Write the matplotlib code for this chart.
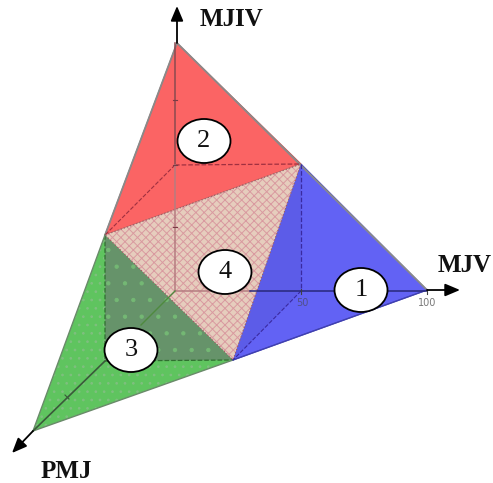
import matplotlib
matplotlib.use('Agg')
import matplotlib.pyplot as plt
from matplotlib.patches import Polygon, Ellipse

plt.rcParams['hatch.linewidth'] = 0.7

# corner points of the big triangle, read in picture pixels
top = (177, 43)
right = (427, 290)
left = (33, 431)
mid_rt = (301, 164)
mid_tl = (105, 235)
mid_lr = (233, 360)
origin = (175, 291)
top_back = (175, 165)
right_back = (301, 291)
left_back = (105, 361)

region_names = ['1', '2', '3', '4']
region_centers = [(361, 290), (204, 141), (131, 350), (225, 272)]
axis_names = ['MJIV', 'MJV', 'PMJ']
axis_label_pos = [(232, 19), (465, 266), (66, 472)]
tick_labels = ['50', '100']
tick_label_pos = [(302, 303), (427, 303)]

fig = plt.figure(figsize=(4.93, 4.83), dpi=100)
ax = fig.add_axes([0, 0, 1, 1])
ax.set_xlim(0, 493)
ax.set_ylim(483, 0)
ax.axis('off')

# coloured faces
ax.add_patch(Polygon([mid_rt, right, mid_lr], fc='#6262f4', ec='#4a4ac0', lw=0.8))
ax.add_patch(Polygon([top, mid_rt, mid_tl], fc='#fb6464', ec='#c05a5a', lw=0.8))
ax.add_patch(Polygon([mid_tl, mid_lr, left], fc='#5fc45f', ec='#7fbf7f', lw=0, hatch='..'))
ax.add_patch(Polygon([mid_tl, mid_rt, mid_lr], fc='#e6cdbd', ec='#d99aa0', lw=0, hatch='xxxx'))
ax.add_patch(Polygon([mid_tl, mid_lr, left_back], fc='#66936a', ec='#74b874', lw=0, hatch='.'))
ax.add_patch(Polygon([mid_rt, right_back, mid_lr], fc='#5c5ce8', ec='none'))

# dashed borders of the middle triangle and the dark green part
ax.plot([mid_tl[0], mid_rt[0], mid_lr[0], mid_tl[0]], [mid_tl[1], mid_rt[1], mid_lr[1], mid_tl[1]],
        color='#a06068', lw=0.9, ls=':')
ax.plot([mid_tl[0], left_back[0], mid_lr[0]], [mid_tl[1], left_back[1], mid_lr[1]],
        color='#2f6f2f', lw=0.9, ls='--')

# grey edge along the outside
ax.plot([mid_tl[0], top[0], right[0]], [mid_tl[1], top[1], right[1]], color='#8a8a8a', lw=1.3)
ax.plot([mid_tl[0], left[0], mid_lr[0]], [mid_tl[1], left[1], mid_lr[1]], color='#6a8a6a', lw=1.0)
ax.plot([mid_lr[0], right[0]], [mid_lr[1], right[1]], color='#4040b0', lw=1.0)

# dashed back lines
ax.plot([top_back[0], mid_rt[0]], [top_back[1], mid_rt[1]], color='#a03040', lw=0.9, ls='--')
ax.plot([top_back[0], mid_tl[0]], [top_back[1], mid_tl[1]], color='#a03040', lw=0.8, ls='--')
ax.plot([mid_rt[0], right_back[0]], [mid_rt[1], right_back[1]], color='#3a2aa0', lw=0.9, ls='--')
ax.plot([right_back[0], mid_lr[0]], [right_back[1], mid_lr[1]], color='#3a2aa0', lw=0.8, ls='--')

# axes inside the faces
ax.plot([top[0] - 2, origin[0]], [top[1], top_back[1]], color='#8a4a50', lw=1.1)
ax.plot([origin[0], origin[0]], [top_back[1], origin[1]], color='#b57c80', lw=1.1)
ax.plot([origin[0], 250], [origin[1], origin[1]], color='#b57c80', lw=1.1)
ax.plot([250, right[0]], [origin[1], origin[1]], color='#28287a', lw=1.1)
ax.plot([origin[0], 141], [origin[1], 325], color='#4f8a3f', lw=1.0)
ax.plot([105, left[0]], [361, left[1]], color='#3a5a3a', lw=1.2)

# axis arrows
for start, end in [(top, (177, 6)), (right, (460, 290)), (left, (12, 453))]:
    ax.annotate('', xy=end, xytext=start,
                arrowprops=dict(arrowstyle='-|>,head_length=0.9,head_width=0.38', color='black',
                                lw=1.3, shrinkA=0, shrinkB=0))

# ticks
for y in [100, 165, 227]:
    ax.plot([173, 177], [y, y], color='#7a3a44', lw=0.8)
for x in [301, 427]:
    ax.plot([x, x], [289, 294], color='#404040', lw=0.8)
ax.plot([65, 69], [395, 399], color='#3a5a3a', lw=0.8)

ax.text(tick_label_pos[0][0], tick_label_pos[0][1], tick_labels[0], fontsize=7, color='#50508a',
        ha='center', va='center')
ax.text(tick_label_pos[1][0], tick_label_pos[1][1], tick_labels[1], fontsize=7, color='#777777',
        ha='center', va='center')

for name, pos in zip(axis_names, axis_label_pos):
    ax.text(pos[0], pos[1], name, family='Liberation Serif', fontweight='bold', fontsize=18,
            color='#111111', ha='center', va='center')

for name, pos in zip(region_names, region_centers):
    ax.add_patch(Ellipse(pos, 53, 44, fc='white', ec='black', lw=1.3, zorder=5))
    ax.text(pos[0], pos[1], name, family='Liberation Serif', fontsize=19, color='#111111',
            ha='center', va='center', zorder=6)

plt.savefig('out.png', dpi=100)
